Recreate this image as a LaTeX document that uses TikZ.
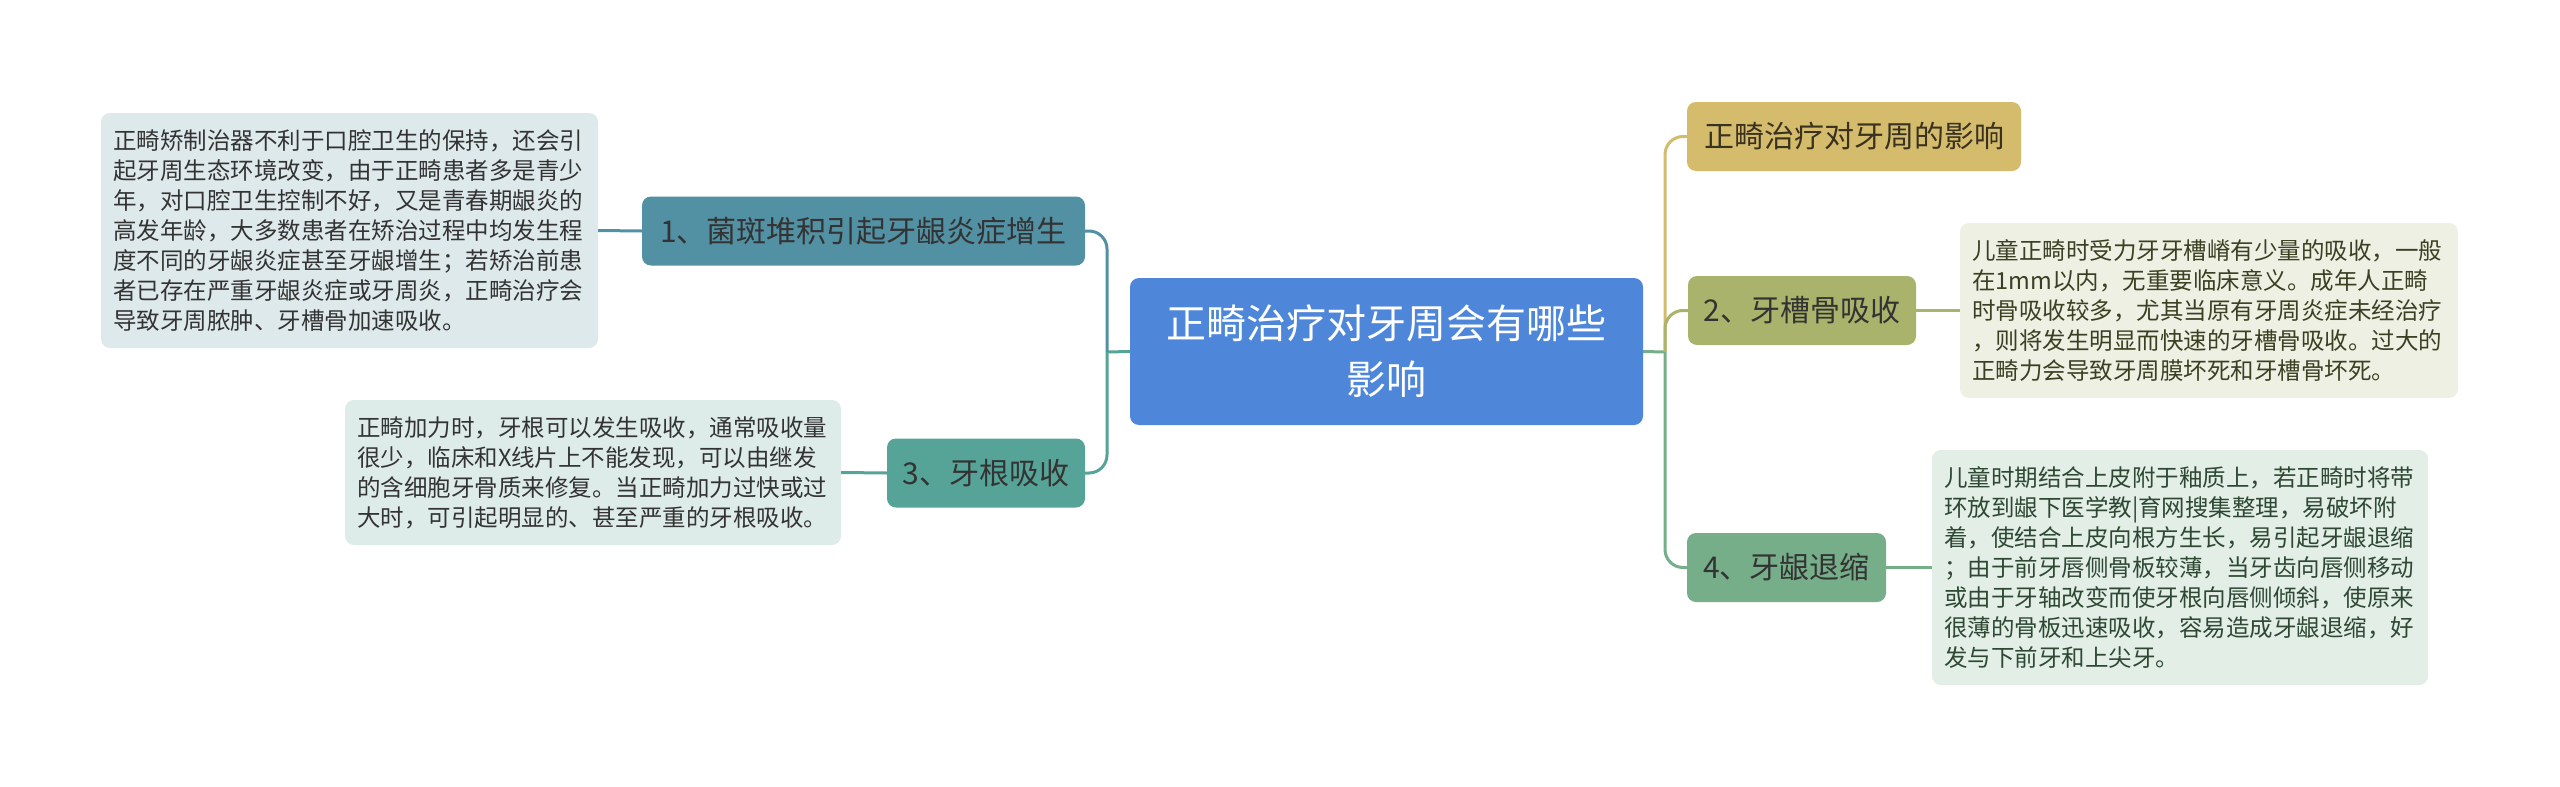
\documentclass[tikz,border=0pt]{standalone}
\usepackage{fontspec}
\setmainfont{Noto Sans CJK SC}
\definecolor{rootc}{HTML}{4E87D9}
\definecolor{b1c}{HTML}{5290A3}
\definecolor{b3c}{HTML}{56A398}
\definecolor{goldc}{HTML}{D4BC6C}
\definecolor{olivec}{HTML}{A9B36C}
\definecolor{greenc}{HTML}{76AE89}
\definecolor{t1c}{HTML}{DEE9EC}
\definecolor{t3c}{HTML}{DEECE9}
\definecolor{t2c}{HTML}{EEF0E3}
\definecolor{t4c}{HTML}{E2EEE6}
\definecolor{txt}{HTML}{333333}
\definecolor{goldtxt}{HTML}{3A3220}
\definecolor{t2txt}{HTML}{3B4023}
\definecolor{t4txt}{HTML}{2E4834}
\tikzset{
  box/.style={rectangle, rounded corners=9pt, inner sep=0pt, align=center},
  branch/.style={box, minimum height=69pt, font=\fontsize{30}{36}\selectfont, text=txt},
  note/.style={box, align=left, inner xsep=12pt, inner ysep=0pt, font=\fontsize{23.5}{30}\selectfont, text=txt},
  link/.style={line width=3pt},
  elbow/.style={line width=3pt, rounded corners=18pt}
}
\begin{document}
\begin{tikzpicture}[x=1pt,y=-1pt]
\useasboundingbox (0,0) rectangle (2560,787);
\fill[white] (0,0) rectangle (2560,787);

% root
\node[box, fill=rootc, minimum width=513pt, minimum height=147pt, text=white,
      font=\fontsize{40}{56}\selectfont] (root) at (1386.5,351.5)
      {正畸治疗对牙周会有哪些\\影响};

% left branches
\node[branch, fill=b1c, minimum width=443pt] (b1) at (863.5,231) {1、菌斑堆积引起牙龈炎症增生};
\node[branch, fill=b3c, minimum width=198pt] (b3) at (986,473) {3、牙根吸收};

% right branches
\node[branch, fill=goldc, minimum width=334pt, text=goldtxt] (g) at (1854,136.5) {正畸治疗对牙周的影响};
\node[branch, fill=olivec, minimum width=228pt] (b2) at (1802,310.5) {2、牙槽骨吸收};
\node[branch, fill=greenc, minimum width=199pt] (b4) at (1786.5,567.5) {4、牙龈退缩};

% notes
\node[note, fill=t1c, text width=473pt, minimum height=235pt] (t1) at (349.5,230.5)
{正畸矫制治器不利于口腔卫生的保持，还会引\\起牙周生态环境改变，由于正畸患者多是青少\\年，对口腔卫生控制不好，又是青春期龈炎的\\高发年龄，大多数患者在矫治过程中均发生程\\度不同的牙龈炎症甚至牙龈增生；若矫治前患\\者已存在严重牙龈炎症或牙周炎，正畸治疗会\\导致牙周脓肿、牙槽骨加速吸收。};

\node[note, fill=t3c, text width=472pt, minimum height=145pt] (t3) at (593,472.5)
{正畸加力时，牙根可以发生吸收，通常吸收量\\很少，临床和X线片上不能发现，可以由继发\\的含细胞牙骨质来修复。当正畸加力过快或过\\大时，可引起明显的、甚至严重的牙根吸收。};

\node[note, fill=t2c, text width=474pt, minimum height=175pt, text=t2txt] (t2) at (2209,310.5)
{儿童正畸时受力牙牙槽嵴有少量的吸收，一般\\在1mm以内，无重要临床意义。成年人正畸\\时骨吸收较多，尤其当原有牙周炎症未经治疗\\，则将发生明显而快速的牙槽骨吸收。过大的\\正畸力会导致牙周膜坏死和牙槽骨坏死。};

\node[note, fill=t4c, text width=472pt, minimum height=235pt, text=t4txt] (t4) at (2180,567.5)
{儿童时期结合上皮附于釉质上，若正畸时将带\\环放到龈下医学教|育网搜集整理，易破坏附\\着，使结合上皮向根方生长，易引起牙龈退缩\\；由于前牙唇侧骨板较薄，当牙齿向唇侧移动\\或由于牙轴改变而使牙根向唇侧倾斜，使原来\\很薄的骨板迅速吸收，容易造成牙龈退缩，好\\发与下前牙和上尖牙。};

% junctions
\coordinate (jl) at (1107,352);
\coordinate (jr) at (1665,352);

% left connectors
\draw[link, b3c] (root.west) -- (jl);
\draw[elbow, b1c] (jl) |- (b1.east);
\draw[elbow, b3c] (jl) |- (b3.east);
\draw[link, b1c] (t1.east) -- (b1.west);
\draw[link, b3c] (t3.east) -- (b3.west);

% right connectors
\draw[link, greenc] (root.east) -- (jr);
\draw[elbow, goldc] (jr) |- (g.west);
\draw[elbow, olivec] (jr) |- (b2.west);
\draw[elbow, greenc] (jr) |- (b4.west);
\draw[link, olivec] (b2.east) -- (t2.west);
\draw[link, greenc] (b4.east) -- (t4.west);
\end{tikzpicture}
\end{document}
